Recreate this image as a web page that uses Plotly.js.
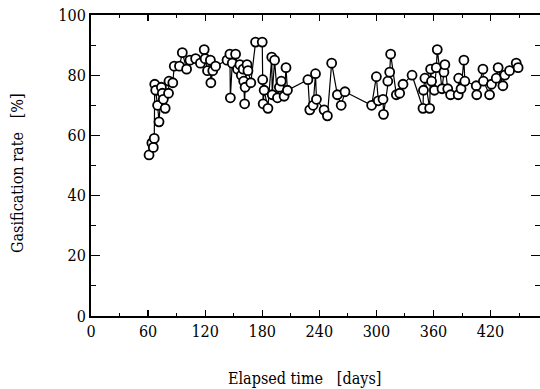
<!DOCTYPE html>
<html>
<head>
<meta charset="utf-8">
<script src="https://cdn.plot.ly/plotly-3.0.1.min.js"></script>
<style>html,body{margin:0;padding:0;background:#fff;overflow:hidden}#chart{width:540px;height:389px}</style>
</head>
<body>
<div id="chart"></div>
<script>
const days = [61, 64, 65.5, 66.5, 67, 68, 70, 71.5, 74, 75, 76, 78, 81.5, 82, 86, 87.5, 93, 96, 100.5, 104, 110, 115, 119, 120, 122.5, 125.5, 126, 128, 131,
  143, 146, 146.5, 148.5, 152, 154, 156.5, 158, 160, 160.5, 161.5, 162, 164, 165, 168,
  173, 180, 180.5, 181, 182, 186, 190, 190.5, 193, 196, 198, 200, 203, 205, 206.5,
  228, 230, 233.5, 236, 237, 245, 248.5, 253, 259, 263, 267,
  295, 300, 302, 307, 307.5, 312, 314, 315, 321, 324.5, 328, 337.5,
  349, 349.5, 351, 356, 357, 358, 361, 363, 364, 369, 371, 372, 375, 378, 386, 386.5, 389, 392, 393,
  405, 405.5, 412, 412.5, 419, 421, 426, 428, 433, 435, 440, 447, 449];
const rate = [53.5, 57.5, 56, 59, 77, 75, 70, 64.5, 76, 74, 72, 69, 74, 78, 77.5, 83, 83, 87.5, 82, 85, 85.5, 84, 88.5, 85.5, 81.5, 85, 77.5, 81.5, 83,
  85, 87, 72.5, 84, 87, 82, 83.5, 80, 82, 78, 70.5, 76, 83.5, 81.5, 77.5,
  91, 91, 78.5, 70.5, 75, 69, 86, 73.5, 85, 72.5, 76, 78, 73, 82.5, 75,
  78.5, 68.5, 70, 80.5, 72, 68.5, 66.5, 84, 73.5, 70, 74.5,
  70, 79.5, 71.5, 72, 67, 78, 81, 87, 73.5, 74, 77, 80,
  69, 75, 79, 69, 82, 78, 75, 82.5, 88.5, 75.5, 81, 83.5, 75.5, 73.5, 73.5, 79, 75.5, 85, 78,
  76.5, 73.5, 82, 78, 73.5, 77, 79, 82.5, 76.5, 80, 81.5, 84, 82.5];

const xTicks = [0, 60, 120, 180, 240, 300, 360, 420, 480];
const yTicks = [0, 20, 40, 60, 80, 100];

const serif = "DejaVu Serif Condensed";

const trace = {
  x: days, y: rate, type: 'scatter', mode: 'lines+markers',
  line: {color: '#000', width: 1.2},
  marker: {symbol: 'circle', size: 9, color: '#fff', line: {color: '#000', width: 1.8}},
  hoverinfo: 'skip'
};

const layout = {
  width: 540, height: 389,
  margin: {l: 91, r: 0, t: 15, b: 73},
  paper_bgcolor: '#fff', plot_bgcolor: '#fff',
  showlegend: false,
  font: {family: serif, color: '#000', size: 16},
  xaxis: {
    range: [0, 472], tickvals: xTicks, ticktext: xTicks.map(String),
    ticks: 'inside', ticklen: 6, tickwidth: 1.2, tickcolor: '#000',
    minor: {tickvals: [30, 90, 150, 210, 270, 330, 390, 450], ticks: 'inside', ticklen: 3, tickwidth: 1, tickcolor: '#000'},
    showline: true, linecolor: '#000', linewidth: 1.8, mirror: 'allticks',
    showgrid: false, zeroline: false,
    tickfont: {family: serif, size: 16, color: '#000'}
  },
  yaxis: {
    range: [0, 100], tickvals: yTicks, ticktext: yTicks.map(String),
    ticks: 'inside', ticklen: 9, tickwidth: 1.2, tickcolor: '#000',
    minor: {tickvals: [10, 30, 50, 70, 90], ticks: 'inside', ticklen: 5, tickwidth: 1, tickcolor: '#000'},
    showline: true, linecolor: '#000', linewidth: 2, mirror: 'ticks',
    showgrid: false, zeroline: false,
    tickfont: {family: serif, size: 16, color: '#000'}
  },
  annotations: [
    {text: 'Elapsed time\u00a0\u00a0\u00a0[days]', xref: 'paper', yref: 'paper', x: (304 - 91) / 449, y: (389 - 378) / 301 - 73 / 301,
     xanchor: 'center', yanchor: 'middle', showarrow: false, font: {family: serif, size: 16, color: '#000'}},
    {text: 'Gasification rate\u00a0\u00a0\u00a0[%]', xref: 'paper', yref: 'paper', x: (17 - 91) / 449, y: (316 - 173) / 301,
     xanchor: 'center', yanchor: 'middle', textangle: -90, showarrow: false, font: {family: serif, size: 16, color: '#000'}}
  ]
};

Plotly.newPlot('chart', [trace], layout, {staticPlot: true, displayModeBar: false});
</script>
</body>
</html>
